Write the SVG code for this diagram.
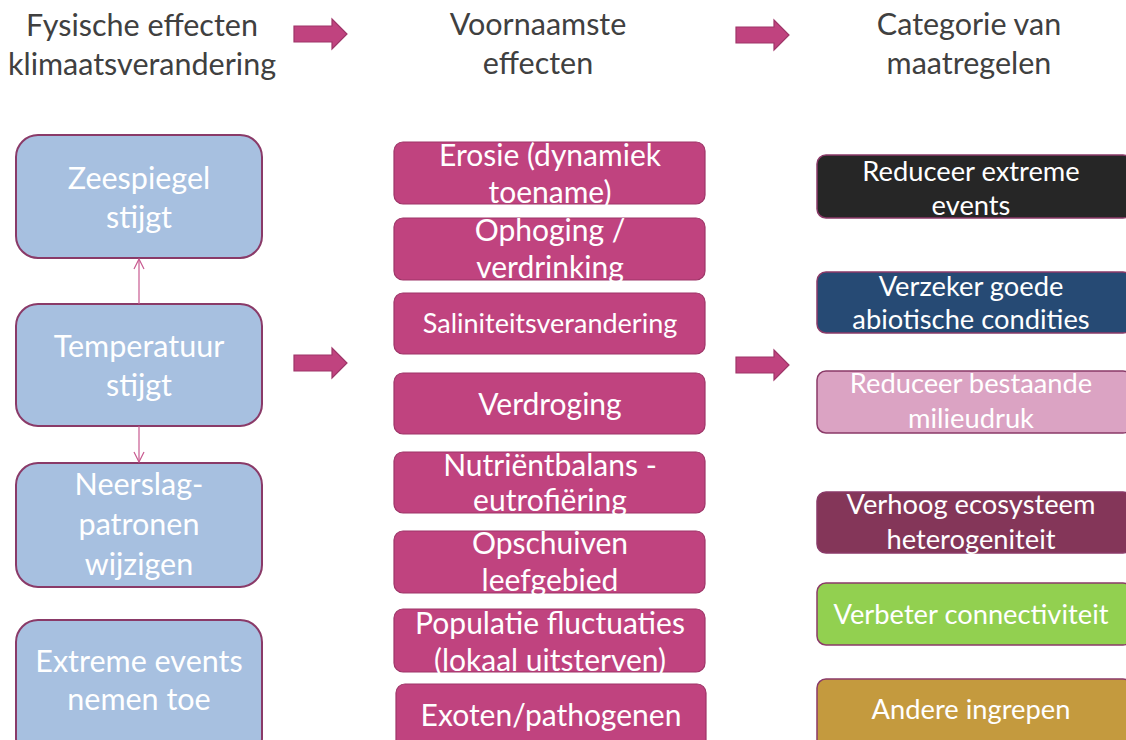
<svg xmlns="http://www.w3.org/2000/svg" width="1126" height="740" viewBox="0 0 1126 740">
  <defs>
    <style>
      text { font-family: Lato, "Open Sans", "Liberation Sans", sans-serif; text-anchor: middle; }
      .hdr { fill: #404040; font-size: 30.5px; }
      .lbl { fill: #ffffff; }
      .phys { fill: #a7c0e0; stroke: #8a3a68; stroke-width: 2; }
      .eff { fill: #c0437f; stroke: #9e3568; stroke-width: 1.2; }
      .cat { stroke: #8a3a68; stroke-width: 1.5; }
      .bigarrow { fill: #c0437f; stroke: #9e3568; stroke-width: 1.2; }
      .link { stroke: #c85a90; stroke-width: 1.2; fill: none; }
    </style>
    <marker id="openhead" viewBox="0 0 12 12" refX="11" refY="6" markerWidth="12" markerHeight="12" markerUnits="userSpaceOnUse" orient="auto">
      <path d="M1,1 L11,6 L1,11" fill="none" stroke="#c85a90" stroke-width="1.2"/>
    </marker>
    <path id="bigArrowShape" d="M0,7 L38,7 L38,0 L53,15 L38,30 L38,23 L0,23 Z"/>
  </defs>

  <rect width="1126" height="740" fill="#ffffff"/>

  <!-- column headers -->
  <g id="header-physical">
    <text class="hdr" x="142" y="36">Fysische effecten</text>
    <text class="hdr" x="142" y="75">klimaatsverandering</text>
  </g>
  <g id="header-effects">
    <text class="hdr" x="538" y="35">Voornaamste</text>
    <text class="hdr" x="538" y="74">effecten</text>
  </g>
  <g id="header-measures">
    <text class="hdr" x="969" y="35">Categorie van</text>
    <text class="hdr" x="969" y="74">maatregelen</text>
  </g>

  <!-- block arrows between columns -->
  <g id="block-arrows">
    <use href="#bigArrowShape" class="bigarrow" transform="translate(294,19)"/>
    <use href="#bigArrowShape" class="bigarrow" transform="translate(736,20)"/>
    <use href="#bigArrowShape" class="bigarrow" transform="translate(294,348)"/>
    <use href="#bigArrowShape" class="bigarrow" transform="translate(736,350)"/>
  </g>

  <!-- physical effects -->
  <g id="phys-sealevel">
    <rect class="phys" x="16" y="135" width="246" height="123" rx="22"/>
    <text class="lbl" x="139" y="189" font-size="30.5">Zeespiegel</text>
    <text class="lbl" x="139" y="228" font-size="30.5">stijgt</text>
  </g>
  <g id="phys-temperature">
    <rect class="phys" x="16" y="304" width="246" height="122" rx="22"/>
    <text class="lbl" x="139" y="357" font-size="30.5">Temperatuur</text>
    <text class="lbl" x="139" y="396" font-size="30.5">stijgt</text>
  </g>
  <g id="phys-precipitation">
    <rect class="phys" x="16" y="463" width="246" height="124" rx="22"/>
    <text class="lbl" x="139" y="495" font-size="30.5">Neerslag-</text>
    <text class="lbl" x="139" y="535" font-size="30.5">patronen</text>
    <text class="lbl" x="139" y="575" font-size="30.5">wijzigen</text>
  </g>
  <g id="phys-extremes">
    <rect class="phys" x="16" y="620" width="246" height="140" rx="22"/>
    <text class="lbl" x="139" y="672" font-size="30.5">Extreme events</text>
    <text class="lbl" x="139" y="710" font-size="30.5">nemen toe</text>
  </g>

  <!-- links between physical effects -->
  <g id="connectors">
    <line class="link" x1="139" y1="304" x2="139" y2="259" marker-end="url(#openhead)"/>
    <line class="link" x1="139" y1="426" x2="139" y2="462" marker-end="url(#openhead)"/>
  </g>

  <!-- main effects -->
  <g id="eff-erosion">
    <rect class="eff" x="394" y="142" width="311" height="62" rx="9"/>
    <text class="lbl" x="550" y="166" font-size="30">Erosie (dynamiek</text>
    <text class="lbl" x="550" y="203" font-size="30">toename)</text>
  </g>
  <g id="eff-raising">
    <rect class="eff" x="394" y="218" width="311" height="62" rx="9"/>
    <text class="lbl" x="550" y="241" font-size="30">Ophoging /</text>
    <text class="lbl" x="550" y="278" font-size="30">verdrinking</text>
  </g>
  <g id="eff-salinity">
    <rect class="eff" x="394" y="293" width="311" height="61" rx="9"/>
    <text class="lbl" x="550" y="333" font-size="27">Saliniteitsverandering</text>
  </g>
  <g id="eff-drought">
    <rect class="eff" x="394" y="373" width="311" height="61" rx="9"/>
    <text class="lbl" x="550" y="415" font-size="30">Verdroging</text>
  </g>
  <g id="eff-nutrients">
    <rect class="eff" x="394" y="452" width="311" height="61" rx="9"/>
    <text class="lbl" x="550" y="476" font-size="30">Nutriëntbalans -</text>
    <text class="lbl" x="550" y="511" font-size="30">eutrofiëring</text>
  </g>
  <g id="eff-habitat">
    <rect class="eff" x="394" y="531" width="311" height="62" rx="9"/>
    <text class="lbl" x="550" y="554" font-size="30">Opschuiven</text>
    <text class="lbl" x="550" y="591" font-size="30">leefgebied</text>
  </g>
  <g id="eff-population">
    <rect class="eff" x="394" y="609" width="311" height="63" rx="9"/>
    <text class="lbl" x="550" y="634" font-size="30">Populatie fluctuaties</text>
    <text class="lbl" x="550" y="671" font-size="30">(lokaal uitsterven)</text>
  </g>
  <g id="eff-exotics">
    <rect class="eff" x="396" y="684" width="310" height="70" rx="9"/>
    <text class="lbl" x="551" y="726" font-size="30">Exoten/pathogenen</text>
  </g>

  <!-- categories of measures -->
  <g id="cat-extremes">
    <rect class="cat" x="817" y="155" width="315" height="63" rx="9" fill="#262626"/>
    <text class="lbl" x="971" y="181" font-size="27.3">Reduceer extreme</text>
    <text class="lbl" x="971" y="215" font-size="27.3">events</text>
  </g>
  <g id="cat-abiotic">
    <rect class="cat" x="817" y="272" width="315" height="61" rx="9" fill="#264a74"/>
    <text class="lbl" x="971" y="296" font-size="27.3">Verzeker goede</text>
    <text class="lbl" x="971" y="329" font-size="27.3">abiotische condities</text>
  </g>
  <g id="cat-pressure">
    <rect class="cat" x="817" y="371" width="315" height="62" rx="9" fill="#dba3c3"/>
    <text class="lbl" x="971" y="393" font-size="27.3">Reduceer bestaande</text>
    <text class="lbl" x="971" y="428" font-size="27.3">milieudruk</text>
  </g>
  <g id="cat-heterogeneity">
    <rect class="cat" x="817" y="492" width="315" height="61" rx="9" fill="#843659" stroke="#843659"/>
    <text class="lbl" x="971" y="514" font-size="27.3">Verhoog ecosysteem</text>
    <text class="lbl" x="971" y="549" font-size="27.3">heterogeniteit</text>
  </g>
  <g id="cat-connectivity">
    <rect class="cat" x="817" y="583" width="315" height="62" rx="9" fill="#92d050"/>
    <text class="lbl" x="971" y="624" font-size="27.3">Verbeter connectiviteit</text>
  </g>
  <g id="cat-other">
    <rect class="cat" x="817" y="679" width="315" height="70" rx="9" fill="#c49a3e"/>
    <text class="lbl" x="971" y="719" font-size="27.3">Andere ingrepen</text>
  </g>
</svg>
